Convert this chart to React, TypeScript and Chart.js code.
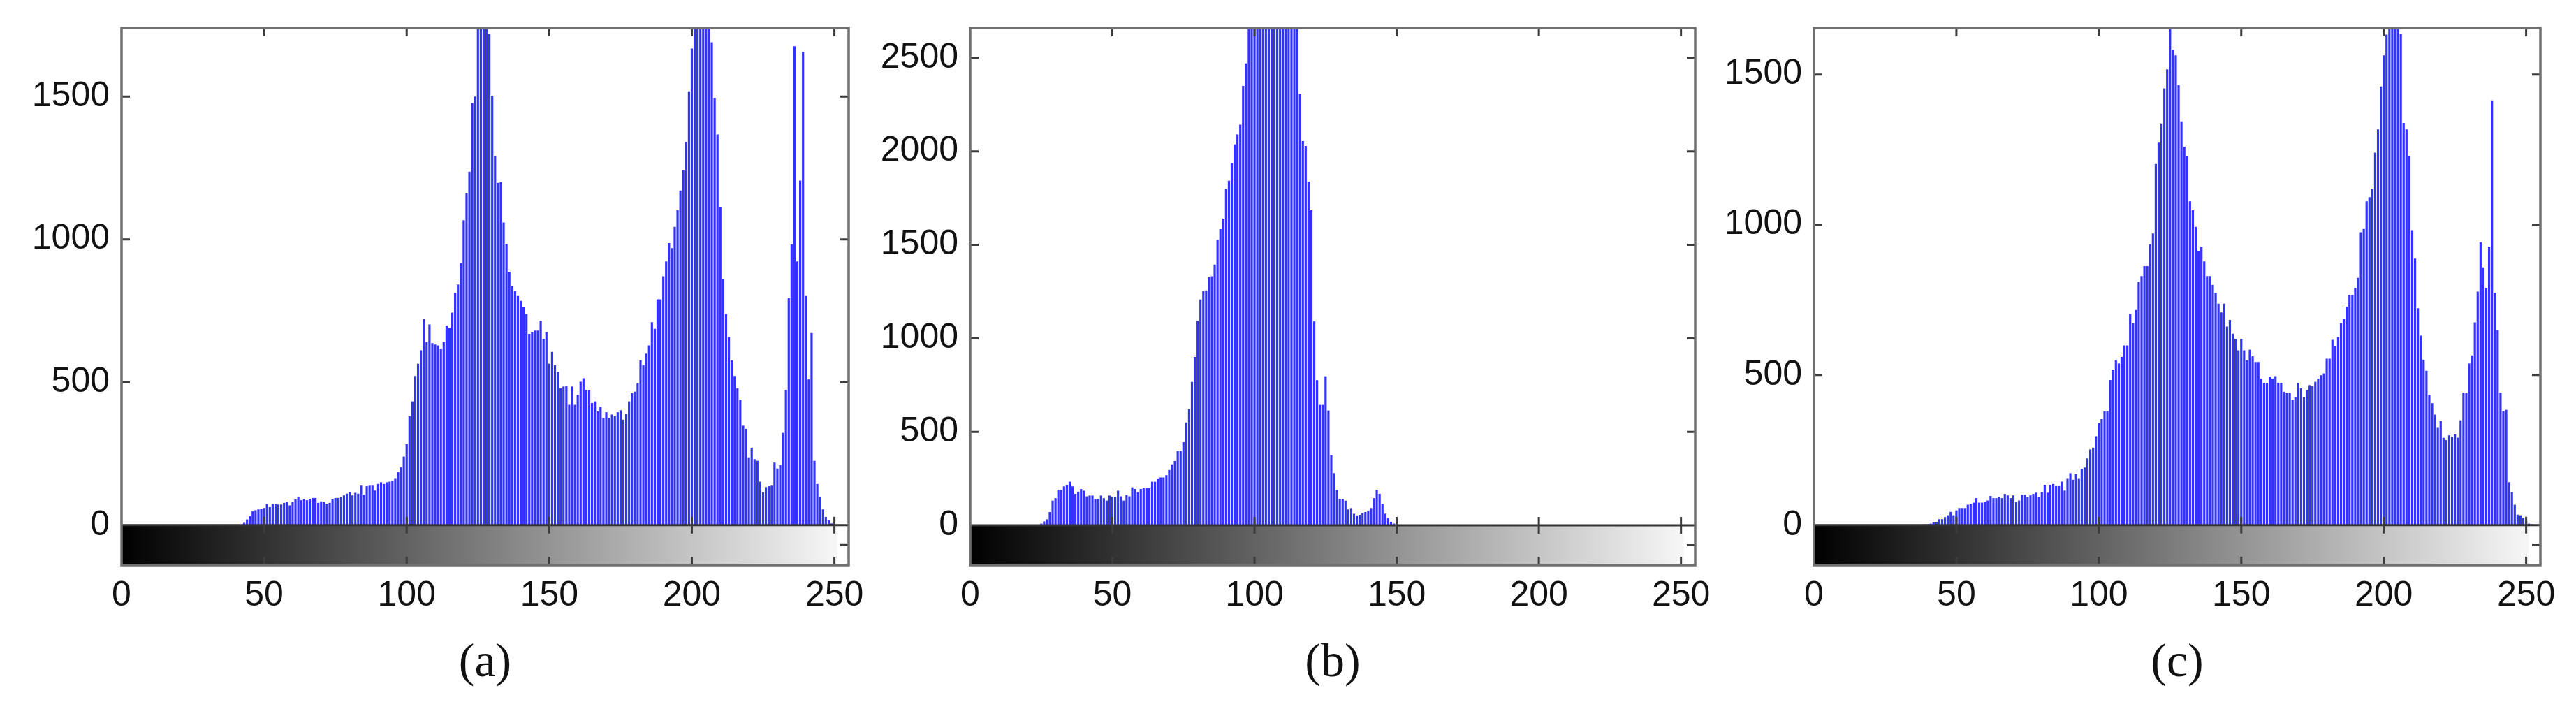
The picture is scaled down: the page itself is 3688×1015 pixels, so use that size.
import React, { useEffect, useRef } from "react";
import { Chart, registerables } from "chart.js";

Chart.register(...registerables);

// ---------- data (pixel counts per grey level 0..255) ----------
const histA = [
  0, 0, 0, 0, 0, 0, 0, 0, 0, 0, 0, 0, 0, 0, 0, 0,
  0, 0, 0, 0, 0, 0, 0, 0, 0, 0, 0, 0, 0, 0, 0, 0,
  0, 0, 0, 0, 0, 0, 0, 0, 0, 0, 2, 8, 20, 31, 48, 52,
  55, 58, 60, 73, 63, 75, 75, 72, 72, 78, 81, 69, 81, 90, 98, 87,
  92, 87, 92, 95, 95, 78, 83, 81, 75, 78, 90, 95, 95, 98, 104, 110,
  115, 104, 113, 110, 138, 106, 136, 138, 138, 121, 144, 150, 144, 150, 152, 156,
  162, 185, 202, 240, 283, 381, 433, 522, 565, 612, 721, 640, 702, 637, 632, 629,
  617, 640, 698, 690, 744, 813, 842, 917, 1067, 1163, 1237, 1477, 1500, 1950, 2100, 2050,
  1900, 1720, 1502, 1292, 1198, 1202, 1059, 984, 886, 837, 819, 802, 785, 762, 739, 669,
  675, 681, 681, 715, 652, 675, 565, 606, 560, 537, 479, 485, 487, 421, 485, 421,
  456, 502, 514, 473, 471, 427, 433, 398, 415, 375, 395, 375, 387, 381, 395, 402,
  369, 390, 433, 462, 467, 496, 577, 560, 600, 629, 710, 687, 790, 790, 871, 923,
  987, 969, 1044, 1102, 1171, 1241, 1341, 1518, 1668, 1800, 1950, 2000, 1980, 1900, 1780, 1690,
  1494, 1367, 1114, 860, 739, 658, 577, 522, 479, 438, 348, 337, 237, 271, 231, 225,
  152, 115, 133, 136, 138, 219, 198, 210, 323, 473, 794, 983, 1676, 923, 1206, 1656,
  802, 510, 672, 225, 144, 98, 55, 29, 17, 6, 0, 0, 0, 0, 0, 0,
];

const histB = [
  0, 0, 0, 0, 0, 0, 0, 0, 0, 0, 0, 0, 0, 0, 0, 0,
  0, 0, 0, 0, 0, 0, 0, 0, 0, 9, 21, 32, 71, 132, 145, 190,
  190, 208, 215, 233, 208, 168, 180, 194, 185, 155, 159, 159, 141, 141, 159, 145,
  132, 159, 153, 150, 185, 155, 132, 162, 155, 203, 194, 176, 194, 198, 198, 198,
  233, 233, 247, 256, 256, 268, 296, 326, 344, 397, 397, 445, 550, 621, 767, 900,
  1094, 1208, 1252, 1256, 1326, 1332, 1394, 1526, 1584, 1640, 1799, 1843, 1937, 2037, 2090, 2143,
  2350, 2470, 2700, 2850, 3000, 3150, 3250, 3350, 3400, 3450, 3420, 3380, 3300, 3200, 3100, 3000,
  2950, 2850, 2780, 2700, 2307, 2055, 2029, 1838, 1685, 1090, 776, 644, 644, 797, 614, 374,
  279, 190, 141, 141, 132, 85, 92, 62, 53, 56, 67, 71, 79, 92, 145, 190,
  168, 115, 62, 39, 18, 9, 0, 0, 0, 0, 0, 0, 0, 0, 0, 0,
  0, 0, 0, 0, 0, 0, 0, 0, 0, 0, 0, 0, 0, 0, 0, 0,
  0, 0, 0, 0, 0, 0, 0, 0, 0, 0, 0, 0, 0, 0, 0, 0,
  0, 0, 0, 0, 0, 0, 0, 0, 0, 0, 0, 0, 0, 0, 0, 0,
  0, 0, 0, 0, 0, 0, 0, 0, 0, 0, 0, 0, 0, 0, 0, 0,
  0, 0, 0, 0, 0, 0, 0, 0, 0, 0, 0, 0, 0, 0, 0, 0,
  0, 0, 0, 0, 0, 0, 0, 0, 0, 0, 0, 0, 0, 0, 0, 0,
];

const histC = [
  0, 0, 0, 0, 0, 0, 0, 0, 0, 0, 0, 0, 0, 0, 0, 0,
  0, 0, 0, 0, 0, 0, 0, 0, 0, 0, 0, 0, 0, 0, 0, 0,
  0, 0, 0, 0, 0, 2, 2, 3, 3, 5, 9, 11, 20, 20, 27, 33,
  44, 33, 49, 57, 57, 57, 68, 71, 75, 90, 75, 75, 77, 82, 97, 90,
  90, 93, 90, 104, 99, 90, 99, 77, 82, 101, 101, 93, 99, 104, 108, 93,
  110, 134, 108, 134, 137, 130, 130, 145, 115, 154, 173, 151, 170, 154, 187, 192,
  222, 252, 258, 296, 340, 353, 379, 379, 483, 518, 549, 538, 560, 598, 598, 702,
  672, 716, 810, 829, 862, 862, 935, 971, 1202, 1273, 1337, 1454, 1517, 1680, 1583, 1564,
  1465, 1344, 1260, 1227, 1078, 1048, 993, 913, 927, 878, 829, 829, 800, 774, 737, 708,
  737, 661, 683, 637, 620, 582, 620, 582, 549, 584, 562, 543, 543, 488, 474, 474,
  494, 488, 496, 474, 474, 444, 441, 439, 417, 426, 474, 455, 426, 450, 466, 463,
  477, 488, 499, 505, 554, 554, 617, 595, 626, 672, 686, 727, 766, 766, 790, 823,
  975, 986, 1078, 1092, 1119, 1240, 1317, 1460, 1564, 1633, 1750, 1800, 1780, 1720, 1635, 1339,
  1317, 1229, 982, 887, 722, 631, 551, 514, 434, 406, 368, 324, 346, 291, 283, 299,
  294, 302, 291, 349, 441, 439, 538, 565, 675, 777, 942, 858, 790, 927, 1414, 774,
  650, 441, 379, 384, 143, 110, 68, 35, 33, 24, 13, 5, 3, 0, 0, 0,
];

const xTicks = [0, 50, 100, 150, 200, 250];
const yTicksA = [0, 500, 1000, 1500];
const yTicksB = [0, 500, 1000, 1500, 2000, 2500];
const yTicksC = [0, 500, 1000, 1500];
const yRangeA = [-140, 1740];
const yRangeB = [-213, 2660];
const yRangeC = [-133, 1655];
const panelLabels = ["(a)", "(b)", "(c)"];
const xRange = [0, 255];
const colorbarEnd = 251;

// ---------- styles ----------
const SANS = "'Liberation Sans', Arial, sans-serif";
const SERIF = "'Liberation Serif', 'Times New Roman', serif";
const BAR = "rgb(50,50,255)";
const TEXT = "#111111";

const framePlugin = {
  id: "matlabFrame",
  beforeDatasetsDraw(chart: any) {
    const { ctx, chartArea, scales } = chart;
    const { right, bottom } = chartArea;
    const x = scales.x;
    const y = scales.y;
    const y0 = y.getPixelForValue(0);
    const xs = x.getPixelForValue(0);
    const xe = Math.min(right, x.getPixelForValue(colorbarEnd));
    ctx.save();
    const g = ctx.createLinearGradient(xs, 0, xe, 0);
    g.addColorStop(0, "#000000");
    g.addColorStop(1, "#f7f7f7");
    ctx.fillStyle = g;
    ctx.fillRect(xs, y0, xe - xs, bottom - y0);
    ctx.restore();
  },
  afterDatasetsDraw(chart: any) {
    const { ctx, chartArea, scales } = chart;
    const { left, right, top, bottom } = chartArea;
    const x = scales.x;
    const y = scales.y;
    const y0 = y.getPixelForValue(0);
    const tl = 12;
    ctx.save();
    // zero line (top of the colour bar)
    ctx.strokeStyle = "#333333";
    ctx.lineWidth = 3;
    ctx.beginPath();
    ctx.moveTo(left, y0);
    ctx.lineTo(right, y0);
    ctx.stroke();
    // ticks
    ctx.strokeStyle = "#3c3c3c";
    ctx.lineWidth = 3;
    ctx.beginPath();
    for (const v of xTicks) {
      const px = x.getPixelForValue(v);
      if (px - left < 3 || right - px < 3) continue;
      ctx.moveTo(px, top);
      ctx.lineTo(px, top + tl);
      ctx.moveTo(px, y0 - tl);
      ctx.lineTo(px, y0 + tl);
      ctx.moveTo(px, bottom);
      ctx.lineTo(px, bottom - tl);
    }
    for (const t of y.ticks) {
      if (t.value === 0) continue;
      const py = y.getPixelForValue(t.value);
      ctx.moveTo(left, py);
      ctx.lineTo(left + tl, py);
      ctx.moveTo(right, py);
      ctx.lineTo(right - tl, py);
    }
    const mid = (y0 + bottom) / 2;
    ctx.moveTo(right, mid);
    ctx.lineTo(right - tl, mid);
    ctx.stroke();
    // box
    ctx.strokeStyle = "#707070";
    ctx.lineWidth = 3.5;
    ctx.strokeRect(left, top, right - left, bottom - top);
    ctx.restore();
  },
};

type PanelProps = {
  values: number[];
  yTicks: number[];
  yRange: number[];
  label: string;
  left: number;
  width: number;
  axisW: number;
  padRight: number;
};

function Panel({ values, yTicks, yRange, label, left, width, axisW, padRight }: PanelProps) {
  const ref = useRef<HTMLCanvasElement>(null);
  useEffect(() => {
    const canvas = ref.current;
    if (!canvas) return;
    const chart = new Chart(canvas, {
      type: "bar",
      data: {
        datasets: [
          {
            data: values.map((v, i) => ({ x: i, y: v })),
            backgroundColor: BAR,
            borderWidth: 0,
            barPercentage: 0.78,
            categoryPercentage: 1,
          } as any,
        ],
      },
      options: {
        animation: false,
        responsive: false,
        devicePixelRatio: 1,
        events: [],
        layout: { padding: { left: 0, right: padRight, top: 40, bottom: 0 } },
        plugins: {
          legend: { display: false },
          tooltip: { enabled: false },
          title: { display: false },
        },
        scales: {
          x: {
            type: "linear",
            min: xRange[0],
            max: xRange[1],
            offset: false,
            grid: { display: false, drawTicks: false },
            border: { display: false },
            ticks: {
              font: { family: SANS, size: 50 },
              color: TEXT,
              padding: 14,
              autoSkip: false,
              maxRotation: 0,
              callback: (v: any) => String(v),
            },
            afterBuildTicks: (s: any) => {
              s.ticks = xTicks.map((v) => ({ value: v }));
            },
            afterFit: (s: any) => {
              s.height = 206;
              s.paddingLeft = 0;
              s.paddingRight = 0;
            },
            title: {
              display: true,
              text: label,
              font: { family: SERIF, size: 68 },
              color: TEXT,
              padding: { top: 0, bottom: 24 },
            },
          },
          y: {
            type: "linear",
            min: yRange[0],
            max: yRange[1],
            grid: { display: false, drawTicks: false },
            border: { display: false },
            ticks: {
              font: { family: SANS, size: 50 },
              color: TEXT,
              padding: 17,
              callback: (v: any) => String(v),
            },
            afterBuildTicks: (s: any) => {
              s.ticks = yTicks.map((v) => ({ value: v }));
            },
            afterFit: (s: any) => {
              s.width = axisW;
              s.paddingTop = 0;
              s.paddingBottom = 0;
            },
          },
        },
      } as any,
      plugins: [framePlugin],
    });
    return () => chart.destroy();
  }, []);
  return (
    <canvas
      ref={ref}
      width={width}
      height={1015}
      style={{ position: "absolute", left, top: 0, width, height: 1015 }}
    />
  );
}

export default function App() {
  return (
    <div
      style={{
        position: "absolute",
        left: 0,
        top: 0,
        width: 3688,
        height: 1015,
        background: "#ffffff",
        overflow: "hidden",
      }}
    >
      <Panel values={histA} yTicks={yTicksA} yRange={yRangeA} label={panelLabels[0]} left={0} width={1250} axisW={174} padRight={35} />
      <Panel values={histB} yTicks={yTicksB} yRange={yRangeB} label={panelLabels[1]} left={1250} width={1230} axisW={139} padRight={53} />
      <Panel values={histC} yTicks={yTicksC} yRange={yRangeC} label={panelLabels[2]} left={2460} width={1228} axisW={137} padRight={51} />
    </div>
  );
}
